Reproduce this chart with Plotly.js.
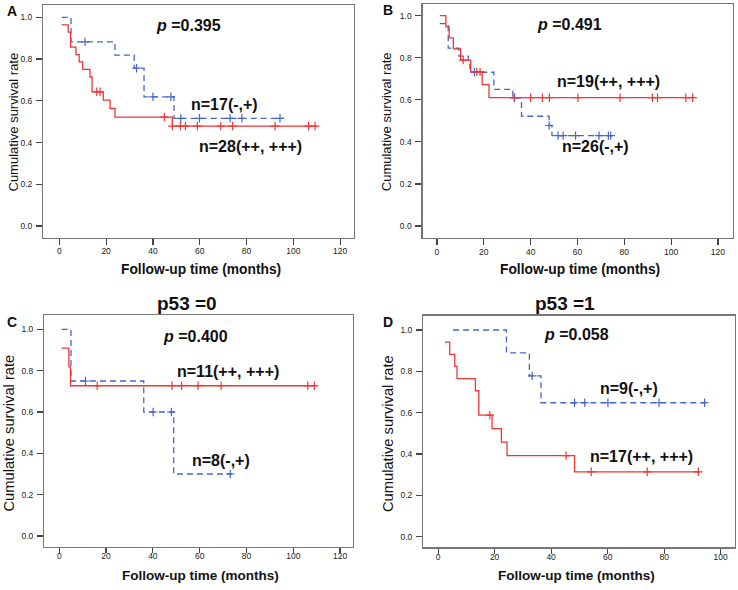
<!DOCTYPE html>
<html>
<head>
<meta charset="utf-8">
<script src="https://cdn.plot.ly/plotly-3.0.1.min.js"></script>
<style>html,body{margin:0;padding:0;background:#fff;}#chart{width:738px;height:590px;}</style>
</head>
<body>
<div id="chart"></div>
<script>
// ---- Panel A ----
const A_high_t = [1, 3.8, 4.8, 7.1, 8.5, 10, 13.1, 14, 18.8, 21.7, 23.8, 48.3, 110];
const A_high_s = [0.964, 0.929, 0.857, 0.821, 0.786, 0.75, 0.714, 0.643, 0.603, 0.563, 0.522, 0.479, 0.479];
const A_high_cens = [16, 17.4, 44.9, 48.3, 51.7, 53.9, 59, 69, 74, 92.2, 106.5, 109.3];
const A_low_t = [1, 5, 23.8, 32, 36.2, 49, 95];
const A_low_s = [1.0, 0.882, 0.819, 0.756, 0.619, 0.516, 0.516];
const A_low_cens = [11, 33, 40, 47.7, 51.9, 59.9, 73, 78, 94.3];
// ---- Panel B ----
const B_high_t = [1.2, 3.8, 5.2, 7.0, 10.1, 14.4, 19.3, 22.2, 109.9];
const B_high_s = [1.0, 0.947, 0.895, 0.842, 0.789, 0.733, 0.672, 0.61, 0.61];
const B_high_cens = [11.2, 17, 18.4, 33, 40, 45, 48, 60.2, 78.2, 92, 94.2, 106.3, 109.2];
const B_low_t = [1.2, 4.8, 9.3, 13.4, 14.1, 24.3, 32.4, 36.1, 47.9, 49.1, 75];
const B_low_s = [0.962, 0.846, 0.808, 0.769, 0.731, 0.65, 0.609, 0.522, 0.478, 0.43, 0.43];
const B_low_cens = [16, 33.1, 47.9, 51.7, 53.9, 59.2, 69.2, 73.2, 74.2];
// ---- Panel C (p53 = 0) ----
const C_high_t = [1, 4.1, 4.8, 110];
const C_high_s = [0.909, 0.818, 0.727, 0.727];
const C_high_cens = [16.2, 48.2, 52.3, 59.3, 69.2, 106.2, 109];
const C_low_t = [1, 5, 36.1, 48.9, 73.8];
const C_low_s = [1.0, 0.75, 0.6, 0.3, 0.3];
const C_low_cens = [11.2, 40.1, 47.9, 73.1];
// ---- Panel D (p53 = 1) ----
const D_high_t = [2.4, 4.1, 5.9, 6.7, 13.2, 14.4, 19.1, 22.4, 24.4, 48.3, 92.6];
const D_high_s = [0.941, 0.882, 0.824, 0.765, 0.706, 0.588, 0.523, 0.458, 0.392, 0.314, 0.314];
const D_high_cens = [18.3, 45.3, 54.2, 74, 92.1];
const D_low_t = [5.3, 24.2, 32.3, 36.4, 94.9];
const D_low_s = [1.0, 0.889, 0.778, 0.648, 0.648];
const D_low_cens = [33.3, 48.3, 51.9, 60.1, 78.2, 94.3];

const yTicks = [0, 0.2, 0.4, 0.6, 0.8, 1.0];
const yTickText = ['0.0', '0.2', '0.4', '0.6', '0.8', '1.0'];
const xTicks120 = [0, 20, 40, 60, 80, 100, 120];
const xTicks100 = [0, 20, 40, 60, 80, 100];

const pTexts = ['0.395', '0.491', '0.400', '0.058'];
const nHigh = ['n=28(++, +++)', 'n=19(++, +++)', 'n=11(++, +++)', 'n=17(++, +++)'];
const nLow = ['n=17(-,+)', 'n=26(-,+)', 'n=8(-,+)', 'n=9(-,+)'];

const RED = '#F03535', BLUE = '#4466CC';
const FONT = 'Liberation Sans, Arial, sans-serif';

function stepAt(ts, ss, t) {
  let v = ss[0];
  for (let i = 0; i < ts.length; i++) { if (ts[i] <= t) v = ss[i]; }
  return v;
}
function curve(ts, ss, cens, color, dash, xa, ya) {
  return [
    {x: ts, y: ss, type: 'scatter', mode: 'lines', line: {shape: 'hv', color: color, width: 1.3, dash: dash},
     xaxis: xa, yaxis: ya, hoverinfo: 'skip', showlegend: false},
    {x: cens, y: cens.map(t => stepAt(ts, ss, t)), type: 'scatter', mode: 'markers',
     marker: {symbol: 'cross-thin-open', size: 6, color: color, line: {color: color, width: 1.2}},
     xaxis: xa, yaxis: ya, hoverinfo: 'skip', showlegend: false}
  ];
}
const traces = [].concat(
  curve(A_low_t, A_low_s, A_low_cens, BLUE, '6px,4px', 'x', 'y'),
  curve(A_high_t, A_high_s, A_high_cens, RED, 'solid', 'x', 'y'),
  curve(B_low_t, B_low_s, B_low_cens, BLUE, '6px,4px', 'x2', 'y2'),
  curve(B_high_t, B_high_s, B_high_cens, RED, 'solid', 'x2', 'y2'),
  curve(C_low_t, C_low_s, C_low_cens, BLUE, '6px,4px', 'x3', 'y3'),
  curve(C_high_t, C_high_s, C_high_cens, RED, 'solid', 'x3', 'y3'),
  curve(D_low_t, D_low_s, D_low_cens, BLUE, '6px,4px', 'x4', 'y4'),
  curve(D_high_t, D_high_s, D_high_cens, RED, 'solid', 'x4', 'y4')
);

const W = 738, H = 590;
function px(x) { return x / W; }
function py(y) { return 1 - y / H; }

function xAx(l, r, range, ticks, anchor, standoff, tlen) {
  return {domain: [px(l), px(r)], range: range, anchor: anchor, tickvals: ticks, ticktext: ticks.map(String),
    showline: true, mirror: true, linecolor: '#777', linewidth: 1.3, ticks: 'outside', ticklen: tlen,
    tickcolor: '#444', tickwidth: 1.2, showgrid: false, zeroline: false, ticklabelstandoff: standoff,
    tickfont: {family: FONT, size: 8.5, color: '#222'}, fixedrange: true};
}
function yAx(top, bot, range, anchor) {
  return {domain: [py(bot), py(top)], range: range, anchor: anchor, tickvals: yTicks, ticktext: yTickText,
    showline: true, mirror: true, linecolor: '#777', linewidth: 1.3, ticks: 'outside', ticklen: 6,
    tickcolor: '#444', tickwidth: 1.2, showgrid: false, zeroline: false, ticklabelstandoff: 2,
    tickfont: {family: FONT, size: 8.5, color: '#222'}, fixedrange: true};
}

function ann(text, x, y, size, opts) {
  return Object.assign({text: text, x: px(x), y: py(y), xref: 'paper', yref: 'paper', showarrow: false,
    xanchor: 'center', yanchor: 'middle', font: {family: FONT, size: size, color: '#111'}}, opts || {});
}

const annotations = [
  ann('<b>A</b>', 11.7, 11, 14), ann('<b>B</b>', 387.7, 9.5, 14),
  ann('<b>C</b>', 11.7, 321.7, 14), ann('<b>D</b>', 388, 321.7, 14),
  ann('Cumulative survival rate', 13, 122.5, 13, {textangle: -90}),
  ann('Cumulative survival rate', 386.5, 121.7, 13, {textangle: -90}),
  ann('Cumulative survival rate', 8, 433.5, 14.7, {textangle: -90}),
  ann('Cumulative survival rate', 388, 434, 14.7, {textangle: -90}),
  ann('<b>Follow-up time (months)</b>', 201, 269, 13.8),
  ann('<b>Follow-up time (months)</b>', 580, 269, 13.8),
  ann('<b>Follow-up time (months)</b>', 200.5, 575, 13.5),
  ann('<b>Follow-up time (months)</b>', 576.5, 575, 13.5),
  ann('<b>p53 =0</b>', 186.7, 303.5, 19), ann('<b>p53 =1</b>', 565, 303.5, 19),
  ann('<b><i>p</i> =' + pTexts[0] + '</b>', 188.7, 26, 16),
  ann('<b><i>p</i> =' + pTexts[1] + '</b>', 569, 24.5, 16),
  ann('<b><i>p</i> =' + pTexts[2] + '</b>', 195, 336, 16),
  ann('<b><i>p</i> =' + pTexts[3] + '</b>', 576, 334.5, 16),
  ann('<b>' + nLow[0] + '</b>', 224.2, 104, 16), ann('<b>' + nHigh[0] + '</b>', 250.8, 146.7, 16),
  ann('<b>' + nHigh[1] + '</b>', 608.7, 81.7, 16), ann('<b>' + nLow[1] + '</b>', 595.7, 146.7, 16),
  ann('<b>' + nHigh[2] + '</b>', 228.3, 371.7, 16), ann('<b>' + nLow[2] + '</b>', 221.3, 460, 16),
  ann('<b>' + nLow[3] + '</b>', 628.5, 388.3, 16), ann('<b>' + nHigh[3] + '</b>', 641.2, 456.7, 16)
];

const layout = {
  width: W, height: H, margin: {l: 0, r: 0, t: 0, b: 0}, paper_bgcolor: '#fff', plot_bgcolor: '#fff',
  showlegend: false,
  xaxis: xAx(43.3, 353.5, [-6.84, 125.7], xTicks120, 'y', -1, 6),
  yaxis: yAx(5, 237.5, [-0.0551, 1.0589], 'x'),
  xaxis2: xAx(422.7, 732.7, [-6.1, 126.3], xTicks120, 'y2', -1, 6),
  yaxis2: yAx(4, 238, [-0.057, 1.0556], 'x2'),
  xaxis3: xAx(44.3, 352.7, [-6.4, 125.4], xTicks120, 'y3', -4, 5),
  yaxis3: yAx(315, 546.7, [-0.0518, 1.0692], 'x3'),
  xaxis4: xAx(423.3, 734.5, [-5.24, 104.9], xTicks100, 'y4', -4, 5),
  yaxis4: yAx(315.7, 547.3, [-0.0513, 1.0692], 'x4'),
  annotations: annotations
};

Plotly.newPlot('chart', traces, layout, {staticPlot: true, displayModeBar: false});
</script>
</body>
</html>
